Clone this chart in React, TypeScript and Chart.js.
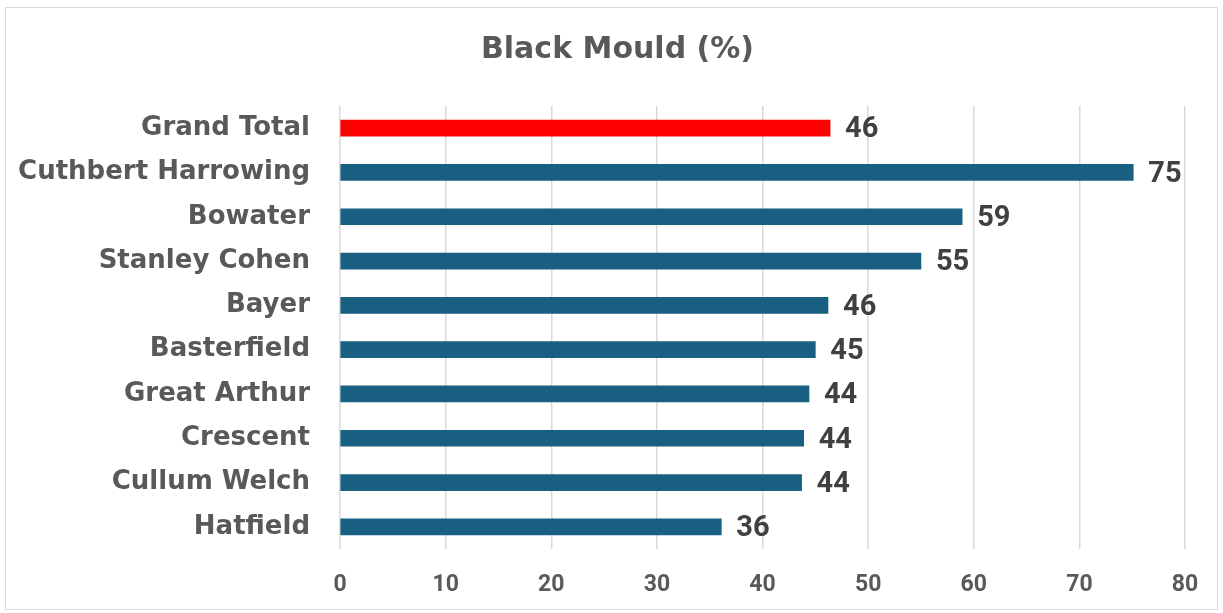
import React, { useEffect, useRef } from "react";
import { Chart, registerables } from "chart.js";

Chart.register(...registerables);

const categories = [
  "Grand Total",
  "Cuthbert Harrowing",
  "Bowater",
  "Stanley Cohen",
  "Bayer",
  "Basterfield",
  "Great Arthur",
  "Crescent",
  "Cullum Welch",
  "Hatfield",
];
const values = [46.4, 75.1, 58.9, 55.0, 46.2, 45.0, 44.4, 43.9, 43.7, 36.1];
const barColors = [
  "#FF0000",
  "#185F81",
  "#185F81",
  "#185F81",
  "#185F81",
  "#185F81",
  "#185F81",
  "#185F81",
  "#185F81",
  "#185F81",
];
const xTicks = [0, 10, 20, 30, 40, 50, 60, 70, 80];
const titleText = "Black Mould (%)";

const LABEL_FONT = "'DejaVu Sans', sans-serif";
const NUM_FONT = "Roboto, 'DejaVu Sans', sans-serif";

export default function App() {
  const ref = useRef<HTMLCanvasElement | null>(null);

  useEffect(() => {
    if (!ref.current) return;

    const titlePlugin = {
      id: "customTitle",
      afterDraw(chart: any) {
        const ctx = chart.ctx;
        ctx.save();
        ctx.font = `bold 30px ${LABEL_FONT}`;
        ctx.fillStyle = "#595959";
        ctx.textAlign = "center";
        ctx.textBaseline = "middle";
        ctx.fillText(titleText, chart.width / 2 + 6, 50);
        ctx.restore();
      },
    };

    const labelPlugin = {
      id: "valueLabels",
      afterDatasetsDraw(chart: any) {
        const ctx = chart.ctx;
        const meta = chart.getDatasetMeta(0);
        ctx.save();
        ctx.font = `bold 29px ${NUM_FONT}`;
        ctx.fillStyle = "#404040";
        ctx.textAlign = "left";
        ctx.textBaseline = "middle";
        meta.data.forEach((bar: any, i: number) => {
          const v = values[i];
          ctx.fillText(String(Math.round(v)), bar.x + 15, bar.y + 2);
        });
        ctx.restore();
      },
    };

    const chart = new Chart(ref.current, {
      type: "bar",
      data: {
        labels: categories,
        datasets: [
          {
            data: values,
            backgroundColor: barColors,
            borderWidth: 0,
            barThickness: 16,
          },
        ],
      },
      options: {
        indexAxis: "y",
        animation: false,
        responsive: false,
        maintainAspectRatio: false,
        layout: { padding: { left: 0, right: 38, top: 106, bottom: 0 } },
        plugins: {
          legend: { display: false },
          title: { display: false },
          tooltip: { enabled: false },
        },
        scales: {
          x: {
            min: 0,
            max: 80,
            afterBuildTicks(scale: any) {
              scale.ticks = xTicks.map((v) => ({ value: v }));
            },
            afterFit(scale: any) {
              scale.height = 64;
            },
            grid: {
              color: "#D9D9D9",
              lineWidth: 1.5,
              drawTicks: false,
            },
            border: { display: false },
            ticks: {
              padding: 22,
              font: { family: NUM_FONT, size: 23, weight: "bold" },
              color: "#595959",
            },
          },
          y: {
            afterFit(scale: any) {
              scale.width = 340;
            },
            grid: { display: false, drawTicks: false },
            border: { display: false },
            ticks: {
              padding: 30,
              font: { family: LABEL_FONT, size: 26, weight: "bold" },
              color: "#595959",
            },
          },
        },
      },
      plugins: [titlePlugin, labelPlugin],
    });

    return () => chart.destroy();
  }, []);

  return (
    <div style={{ position: "fixed", left: 0, top: 0, width: 1223, height: 613, background: "#fff" }}>
      <div
        style={{
          position: "absolute",
          left: 5,
          top: 7,
          width: 1213,
          height: 603,
          border: "1px solid #D9D9D9",
          boxSizing: "border-box",
        }}
      />
      <canvas
        ref={ref}
        width={1223}
        height={613}
        style={{ position: "absolute", left: 0, top: 0, width: 1223, height: 613 }}
      />
    </div>
  );
}
